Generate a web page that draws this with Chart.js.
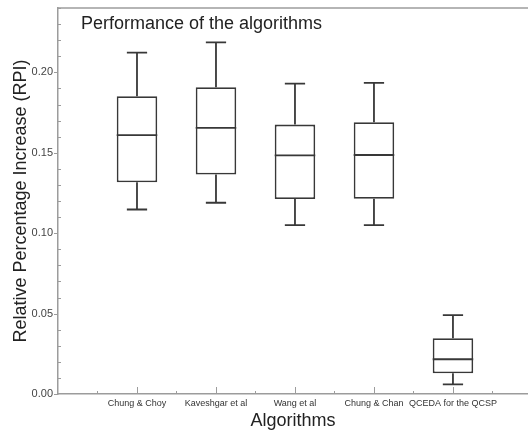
<!DOCTYPE html>
<html>
<head>
<meta charset="utf-8">
<script src="https://cdn.jsdelivr.net/npm/chart.js@4.4.1/dist/chart.umd.min.js"></script>
<style>
  html, body { margin: 0; padding: 0; background: #fff; }
  #wrap { width: 528px; height: 434px; position: relative; }
</style>
</head>
<body>
<div id="wrap"><canvas id="boxChart"></canvas></div>
<script>
// Box plot data
const algorithms = ['Chung & Choy', 'Kaveshgar et al', 'Wang et al', 'Chung & Chan', 'QCEDA for the QCSP'];
const whiskerLow = [0.1147, 0.1189, 0.1050, 0.1050, 0.0060];
const quartile1  = [0.1316, 0.1365, 0.1212, 0.1214, 0.0129];
const medians    = [0.1609, 0.1655, 0.1484, 0.1486, 0.0216];
const quartile3  = [0.1852, 0.1908, 0.1675, 0.1690, 0.0347];
const whiskerHigh = [0.2122, 0.2186, 0.1930, 0.1935, 0.0491];

const yTicks = [0.00, 0.05, 0.10, 0.15, 0.20];

const AXIS_COLOR = '#9c9c9c';
const BOX_COLOR = '#383838';
const FONT = "'Liberation Sans', Arial, sans-serif";

// whiskers, caps, medians, tick marks and top frame line
const boxExtras = {
    id: 'boxExtras',
    afterDatasetsDraw(chart) {
        const ctx = chart.ctx;
        const x = chart.scales.x;
        const y = chart.scales.y;
        const area = chart.chartArea;
        const meta = chart.getDatasetMeta(0);

        ctx.save();
        ctx.strokeStyle = BOX_COLOR;
        ctx.lineWidth = 1.8;
        algorithms.forEach((name, i) => {
            const bar = meta.data[i];
            const cx = x.getPixelForValue(i + 1);
            const half = bar.width / 2;
            const capHalf = half / 2;
            ctx.beginPath();
            // upper whisker
            ctx.moveTo(cx, y.getPixelForValue(quartile3[i]));
            ctx.lineTo(cx, y.getPixelForValue(whiskerHigh[i]));
            ctx.moveTo(cx - capHalf, y.getPixelForValue(whiskerHigh[i]));
            ctx.lineTo(cx + capHalf, y.getPixelForValue(whiskerHigh[i]));
            // lower whisker
            ctx.moveTo(cx, y.getPixelForValue(quartile1[i]));
            ctx.lineTo(cx, y.getPixelForValue(whiskerLow[i]));
            ctx.moveTo(cx - capHalf, y.getPixelForValue(whiskerLow[i]));
            ctx.lineTo(cx + capHalf, y.getPixelForValue(whiskerLow[i]));
            // median
            ctx.moveTo(cx - half, y.getPixelForValue(medians[i]));
            ctx.lineTo(cx + half, y.getPixelForValue(medians[i]));
            ctx.stroke();
        });

        ctx.strokeStyle = AXIS_COLOR;
        ctx.lineWidth = 1;
        ctx.beginPath();
        // y ticks: majors outward, minors inward
        for (let k = 0; k <= 24; k++) {
            const py = Math.round(y.getPixelForValue(k / 100)) + 0.5;
            if (k % 5 === 0) {
                ctx.moveTo(area.left - 4, py);
                ctx.lineTo(area.left, py);
            } else {
                ctx.moveTo(area.left, py);
                ctx.lineTo(area.left + 3, py);
            }
        }
        // x ticks: majors at categories, minors halfway
        for (let k = 1; k <= 11; k++) {
            const px = Math.round(x.getPixelForValue(k / 2)) + 0.5;
            const len = k % 2 === 0 ? 7 : 3;
            ctx.moveTo(px, area.bottom);
            ctx.lineTo(px, area.bottom - len);
        }
        ctx.stroke();

        // top frame
        ctx.lineWidth = 1.5;
        ctx.beginPath();
        ctx.moveTo(area.left, area.top);
        ctx.lineTo(area.right, area.top);
        ctx.stroke();

        // title inside the plot
        ctx.fillStyle = '#222';
        ctx.font = '18px ' + FONT;
        ctx.textBaseline = 'alphabetic';
        ctx.textAlign = 'left';
        ctx.fillText('Performance of the algorithms', 81, 29);
        ctx.restore();
    }
};

new Chart(document.getElementById('boxChart'), {
    type: 'bar',
    data: {
        datasets: [{
            data: algorithms.map((name, i) => ({ x: i + 1, y: [quartile1[i], quartile3[i]] })),
            backgroundColor: '#ffffff',
            borderColor: BOX_COLOR,
            borderWidth: 1.8,
            borderSkipped: false,
            barPercentage: 0.54,
            categoryPercentage: 1
        }]
    },
    options: {
        responsive: true,
        maintainAspectRatio: false,
        animation: false,
        layout: { padding: { top: 8, right: 0, left: 0, bottom: 0 } },
        plugins: {
            legend: { display: false },
            tooltip: { enabled: false }
        },
        scales: {
            x: {
                type: 'linear',
                offset: false,
                min: 0,
                max: 5.95,
                grid: { display: false, drawTicks: false, offset: false },
                border: { display: true, color: AXIS_COLOR, width: 1.5 },
                ticks: {
                    stepSize: 1,
                    autoSkip: false,
                    maxRotation: 0,
                    padding: 4,
                    color: '#333',
                    font: { family: FONT, size: 9 },
                    callback: (v) => (Number.isInteger(v) && v >= 1 && v <= algorithms.length) ? algorithms[v - 1] : ''
                },
                title: {
                    display: true,
                    text: 'Algorithms',
                    color: '#222',
                    font: { family: FONT, size: 18 },
                    padding: { top: 0, bottom: 2 }
                },
                afterFit: (scale) => {
                    scale.height = 40;
                    scale.paddingLeft = 0;
                    scale.paddingRight = 0;
                }
            },
            y: {
                min: 0,
                max: 0.24,
                grid: { display: false, drawTicks: false },
                border: { display: true, color: AXIS_COLOR, width: 1.5 },
                ticks: {
                    stepSize: 0.05,
                    padding: 5,
                    color: '#444',
                    font: { family: FONT, size: 11 },
                    callback: (v) => yTicks.some(t => Math.abs(t - v) < 1e-6) ? v.toFixed(2) : ''
                },
                title: {
                    display: true,
                    text: 'Relative Percentage Increase (RPI)',
                    color: '#222',
                    font: { family: FONT, size: 18 },
                    padding: { top: 10, bottom: 0 }
                },
                afterFit: (scale) => {
                    scale.width = 58;
                    scale.paddingTop = 0;
                    scale.paddingBottom = 0;
                }
            }
        }
    },
    plugins: [boxExtras]
});
</script>
</body>
</html>
